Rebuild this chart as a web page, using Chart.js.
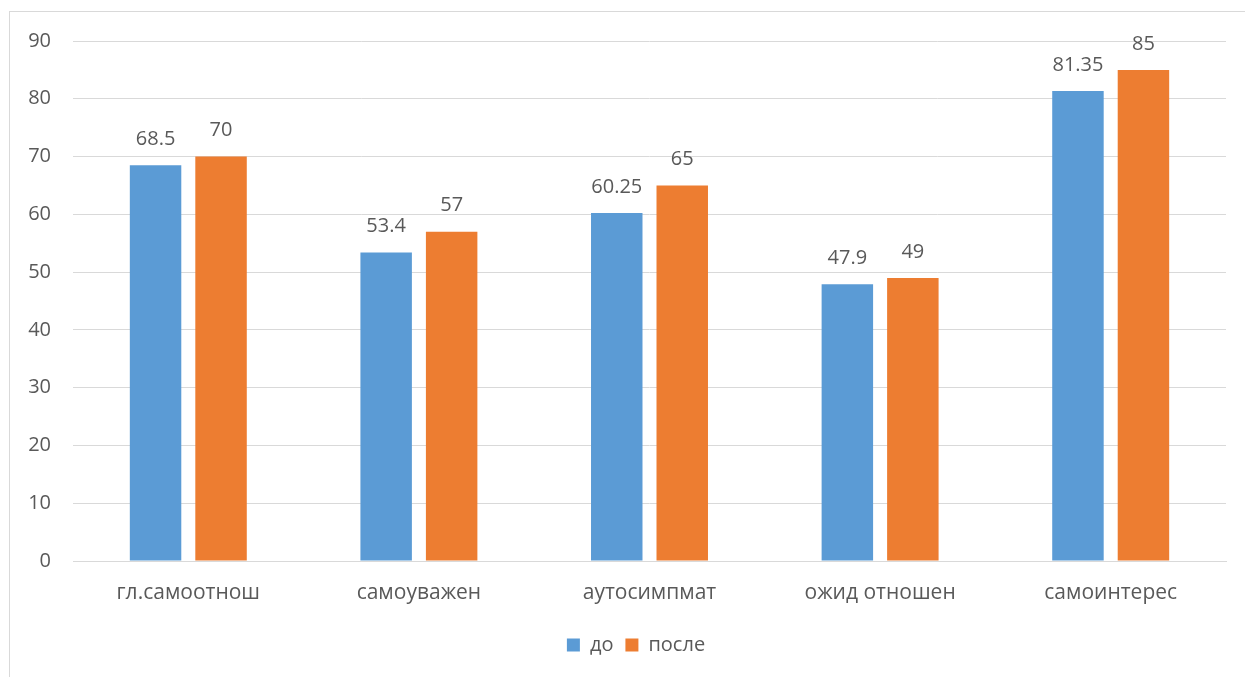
<!DOCTYPE html>
<html>
<head>
<meta charset="utf-8">
<script src="https://cdn.jsdelivr.net/npm/chart.js@4"></script>
<style>
  html, body { margin: 0; padding: 0; background: #fff; overflow: hidden; }
  .frame { position: absolute; left: 9px; top: 11px; width: 1300px; height: 700px; border: 1px solid #d9d9d9; }
  .wrap { position: absolute; left: 0; top: 0; width: 1245px; height: 677px; }
</style>
</head>
<body>
<div class="frame"></div>
<div class="wrap"><canvas id="grafico"></canvas></div>
<script>
const categorias = ['гл.самоотнош', 'самоуважен', 'аутосимпмат', 'ожид отношен', 'самоинтерес'];
const valoresDo = [68.5, 53.4, 60.25, 47.9, 81.35];
const valoresPosle = [70, 57, 65, 49, 85];

const TEXTO = '#595959';
const FUENTE = "'Open Sans', 'Noto Sans', sans-serif";

// etiquetas con el valor encima de cada barra
const etiquetasValor = {
    id: 'etiquetasValor',
    afterDatasetsDraw(chart) {
        const ctx = chart.ctx;
        ctx.save();
        ctx.font = '20px ' + FUENTE;
        ctx.fillStyle = TEXTO;
        ctx.textAlign = 'center';
        ctx.textBaseline = 'middle';
        chart.data.datasets.forEach((ds, i) => {
            chart.getDatasetMeta(i).data.forEach((bar, j) => {
                ctx.fillText(String(ds.data[j]), bar.x, bar.y - 26);
            });
        });
        ctx.restore();
    }
};

// la leyenda se centra respecto al marco y no al área del gráfico
const centrarLeyenda = {
    id: 'centrarLeyenda',
    afterLayout(chart) {
        const leyenda = chart.legend;
        if (!leyenda) return;
        leyenda.left += 23;
        leyenda.right += 23;
    }
};

const ctx = document.getElementById('grafico').getContext('2d');
new Chart(ctx, {
    type: 'bar',
    data: {
        labels: categorias,
        datasets: [
            { label: 'до', data: valoresDo, backgroundColor: '#5B9BD5' },
            { label: 'после', data: valoresPosle, backgroundColor: '#ED7D31' }
        ]
    },
    options: {
        responsive: true,
        maintainAspectRatio: false,
        animation: false,
        datasets: { bar: { categoryPercentage: 0.568, barPercentage: 0.786 } },
        layout: { padding: { left: 0, right: 19, top: 41, bottom: 12 } },
        plugins: {
            tooltip: { enabled: false },
            legend: {
                position: 'bottom',
                labels: {
                    boxWidth: 13, boxHeight: 13, padding: 12,
                    color: TEXTO,
                    font: { family: FUENTE, size: 20 }
                }
            }
        },
        scales: {
            x: {
                grid: { display: false, drawTicks: false },
                border: { color: '#d9d9d9', width: 1 },
                ticks: { color: TEXTO, padding: 19, font: { family: FUENTE, size: 21 } },
                afterFit(scale) { scale.height = 62; }
            },
            y: {
                min: 0, max: 90,
                ticks: { stepSize: 10, color: TEXTO, padding: 22, font: { family: FUENTE, size: 20 } },
                grid: { color: '#d9d9d9', drawTicks: false },
                border: { display: false },
                afterFit(scale) { scale.width = 73; }
            }
        }
    },
    plugins: [etiquetasValor, centrarLeyenda]
});
</script>
</body>
</html>
